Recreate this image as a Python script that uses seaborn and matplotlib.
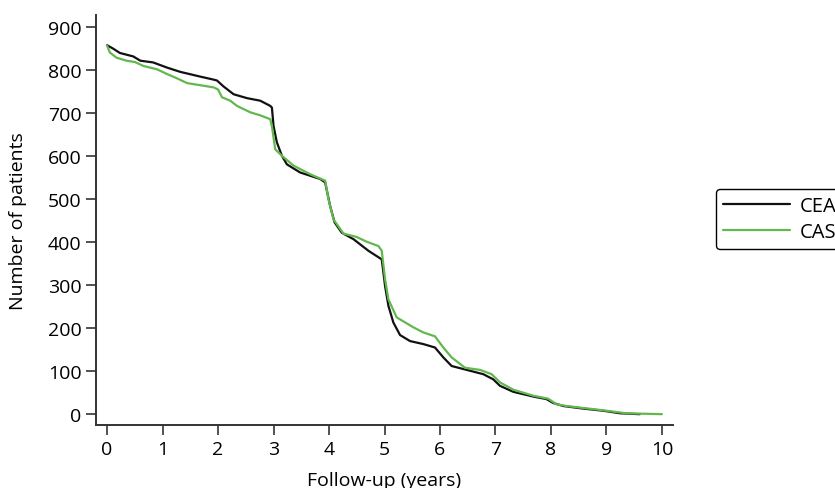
import numpy as np
import pandas as pd
import matplotlib.pyplot as plt
import seaborn as sns

# curve values (years, number of patients)
cea_t = [0, 0.11, 0.23, 0.47, 0.6, 0.83, 1.08, 1.32, 1.68, 1.92, 1.98, 2.1, 2.28, 2.52, 2.76, 2.94, 2.97,
         3.0, 3.06, 3.15, 3.24, 3.48, 3.84, 3.93, 4.02, 4.1, 4.23, 4.44, 4.71, 4.95, 5.01, 5.07, 5.16,
         5.28, 5.46, 5.7, 5.91, 6.06, 6.21, 6.48, 6.78, 6.96, 7.08, 7.32, 7.68, 7.92, 8.04, 8.22, 8.58,
         8.94, 9.25, 9.6]
cea_n = [858, 850, 840, 832, 822, 818, 806, 796, 785, 778, 776, 762, 744, 735, 729, 717, 713,
         670, 632, 601, 581, 562, 547, 539, 484, 446, 422, 407, 380, 360, 298, 252, 213,
         184, 170, 163, 155, 132, 112, 103, 93, 81, 66, 52, 41, 35, 26, 19, 13,
         8, 2, 0]

cas_t = [0, 0.05, 0.17, 0.35, 0.5, 0.65, 0.9, 1.08, 1.26, 1.44, 1.68, 1.92, 2.0, 2.07, 2.22, 2.34,
         2.58, 2.76, 2.94, 2.97, 3.03, 3.15, 3.36, 3.66, 3.93, 3.99, 4.08, 4.26, 4.5, 4.68, 4.89,
         4.95, 5.01, 5.07, 5.22, 5.52, 5.7, 5.91, 6.06, 6.21, 6.45, 6.72, 6.93, 7.08, 7.32, 7.68,
         7.95, 8.1, 8.28, 8.94, 9.36, 10.0]
cas_n = [857, 841, 829, 822, 819, 810, 802, 791, 781, 770, 765, 760, 755, 737, 729, 717,
         702, 695, 686, 670, 616, 601, 578, 558, 543, 500, 453, 420, 412, 401, 391,
         380, 314, 267, 225, 202, 190, 181, 155, 132, 108, 103, 93, 74, 57, 43,
         36, 23, 19, 9, 2, 0]

groups = ["CEA", "CAS"]
xticks = list(range(0, 11))
yticks = list(range(0, 1000, 100))

df = pd.concat([
    pd.DataFrame({"t": cea_t, "n": cea_n, "group": "CEA"}),
    pd.DataFrame({"t": cas_t, "n": cas_n, "group": "CAS"}),
])

sns.set_style("ticks")
plt.rcParams["font.family"] = ["Open Sans", "DejaVu Sans"]
plt.rcParams["text.color"] = "black"
plt.rcParams["axes.labelcolor"] = "black"

fig = plt.figure(figsize=(8.35, 4.89), dpi=100)
ax = fig.add_axes([0.115, 0.129, 0.691, 0.838])
sns.lineplot(data=df, x="t", y="n", hue="group", hue_order=groups,
             palette={"CEA": "#111111", "CAS": "#62b84e"}, linewidth=1.6,
             estimator=None, sort=False, ax=ax)

ax.set_xlim(-0.2, 10.2)
ax.set_ylim(-25, 928)
ax.set_xticks(xticks)
ax.set_yticks(yticks)
ax.tick_params(labelsize=14, length=7, width=1.2, color="#333333", labelcolor="black")
for s in ["top", "right"]:
    ax.spines[s].set_visible(False)
for s in ["left", "bottom"]:
    ax.spines[s].set_linewidth(1.4)
    ax.spines[s].set_color("#333333")
ax.set_xlabel("Follow-up (years)", fontsize=14, labelpad=10)
ax.set_ylabel("Number of patients", fontsize=14, labelpad=15)

leg = ax.legend(loc="center left", bbox_to_anchor=(706 / 835, 1 - 220 / 489),
                bbox_transform=fig.transFigure, fontsize=14.5, frameon=True,
                fancybox=True, edgecolor="black", handlelength=3.3,
                handletextpad=0.5, labelspacing=0.3, borderpad=0.35)
leg.get_frame().set_linewidth(1.0)
leg.get_frame().set_alpha(1)

fig.savefig("out.png", dpi=100)
